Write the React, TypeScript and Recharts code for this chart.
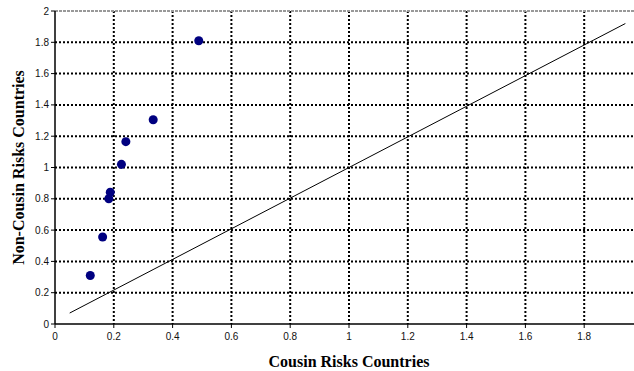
import { ScatterChart, Scatter, XAxis, YAxis, CartesianGrid, ReferenceLine } from "recharts"

const cousinRisk = [0.489, 0.334, 0.241, 0.226, 0.188, 0.183, 0.162, 0.12]
const nonCousinRisk = [1.81, 1.305, 1.165, 1.02, 0.842, 0.8, 0.556, 0.31]

const lineX = [0.05, 1.94]
const lineY = [0.07, 1.92]

const xTicks = [0, 0.2, 0.4, 0.6, 0.8, 1, 1.2, 1.4, 1.6, 1.8]
const yTicks = [0, 0.2, 0.4, 0.6, 0.8, 1, 1.2, 1.4, 1.6, 1.8, 2]

const points = cousinRisk.map((x, i) => ({ x, y: nonCousinRisk[i] }))
const linePoints = lineX.map((x, i) => ({ x, y: lineY[i] }))

const tickStyle = { fontFamily: "Arial, 'Liberation Sans', sans-serif", fontSize: 10, fill: "#111" }
const labelFont = "'Book Antiqua', Palatino, 'Liberation Serif', serif"

export default function App() {
  return (
    <div style={{ position: "absolute", left: 0, top: 0, width: 634, height: 371, overflow: "hidden", background: "#fff" }}>
      <ScatterChart width={660} height={371} margin={{ top: 11, right: 17, left: 0, bottom: 0 }}>
        <CartesianGrid
          stroke="#000"
          strokeWidth={2}
          strokeDasharray="2 2"
          horizontalValues={yTicks.slice(1, -1)}
          verticalValues={xTicks.slice(1)}
        />
        <ReferenceLine y={2} stroke="#999" strokeWidth={2} strokeDasharray="3 1" />
        <XAxis
          type="number"
          dataKey="x"
          domain={[0, 2]}
          ticks={xTicks}
          interval={0}
          height={47}
          stroke="#000"
          tick={tickStyle}
          tickSize={4}
          tickMargin={5}
          tickLine={{ stroke: "#000" }}
          axisLine={{ stroke: "#000", strokeWidth: 1.5 }}
          label={{
            value: "Cousin Risks Countries",
            position: "insideBottom",
            offset: 4,
            style: { fontFamily: labelFont, fontWeight: "bold", fontSize: 16, fill: "#000" },
          }}
        />
        <YAxis
          type="number"
          dataKey="y"
          domain={[0, 2]}
          ticks={yTicks}
          interval={0}
          width={55}
          stroke="#000"
          tick={tickStyle}
          tickSize={4}
          tickLine={{ stroke: "#000" }}
          axisLine={{ stroke: "#000", strokeWidth: 1.5 }}
          label={{
            value: "Non-Cousin Risks Countries",
            angle: -90,
            position: "insideLeft",
            offset: 18,
            style: { textAnchor: "middle", fontFamily: labelFont, fontWeight: "bold", fontSize: 16, fill: "#000" },
          }}
        />
        <Scatter
          data={linePoints}
          line={{ stroke: "#000", strokeWidth: 1 }}
          shape={() => null}
          isAnimationActive={false}
        />
        <Scatter data={points} fill="#000080" shape="circle" isAnimationActive={false} />
      </ScatterChart>
    </div>
  )
}
